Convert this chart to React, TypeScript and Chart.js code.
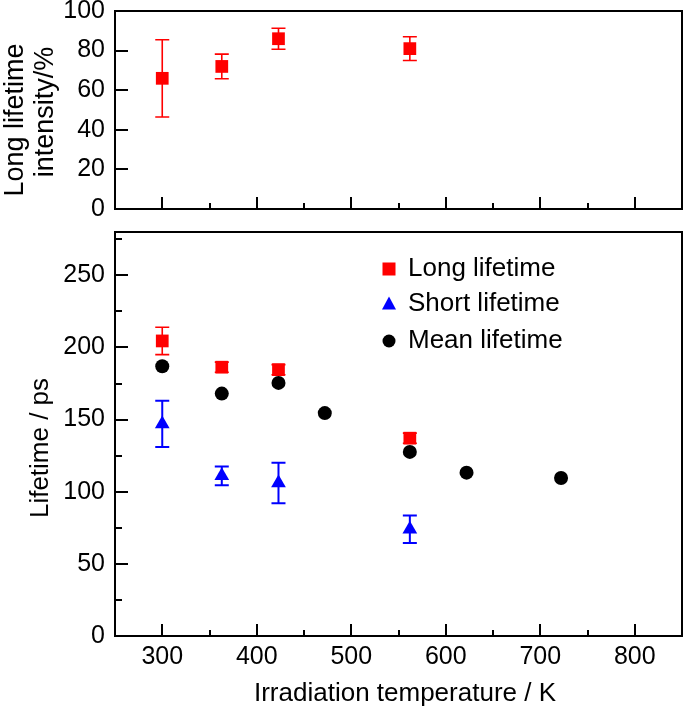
import React, { useEffect, useRef } from "react";
import { Chart, registerables } from "chart.js";
Chart.register(...registerables);

// ---- data ----
const intensityTemps = [300, 363, 423, 562];
const intensityValues = [66, 72, 86, 81];
const intensityErrors = [19.5, 6.2, 5.3, 6];

const longTemps = [300, 363, 423, 562];
const longValues = [204.5, 186.3, 184.6, 137.1];
const longErrors = [9.5, 3.5, 3.5, 3.5];

const shortTemps = [300, 363, 423, 562];
const shortValues = [147, 111, 106, 74];
const shortErrors = [16, 6.5, 14, 9.5];

const meanTemps = [300, 363, 423, 472, 562, 622, 722];
const meanValues = [187, 168, 175.4, 154.5, 127.6, 113.2, 109.5];

const xMajorTicks = [300, 400, 500, 600, 700, 800];
const xMinorTicks = [350, 450, 550, 650, 750];
const topYTicks = [0, 20, 40, 60, 80, 100];
const bottomYTicks = [0, 50, 100, 150, 200, 250];
const bottomYMinorTicks = [25, 75, 125, 175, 225, 275];

const seriesNames = ["Long lifetime", "Short lifetime", "Mean lifetime"];
const xTitle = "Irradiation temperature / K";
const topYTitle = ["Long lifetime", "intensity/%"];
const bottomYTitle = "Lifetime / ps";

const RED = "#ff0000";
const BLUE = "#0000ff";
const BLACK = "#000000";
const FONT = "'Liberation Sans', Arial, Helvetica, sans-serif";

function pts(xs: number[], ys: number[]) {
  return xs.map((x, i) => ({ x, y: ys[i] }));
}

const errorBarPlugin = {
  id: "errorBars",
  beforeDatasetsDraw(chart: any) {
    const { ctx } = chart;
    const xs = chart.scales.x;
    const ys = chart.scales.y;
    chart.data.datasets.forEach((ds: any) => {
      if (!ds.errors) return;
      ctx.save();
      ctx.strokeStyle = ds.errorColor;
      ctx.lineWidth = ds.errorWidth || 2;
      ctx.beginPath();
      ds.data.forEach((p: any, i: number) => {
        const e = ds.errors[i];
        const px = xs.getPixelForValue(p.x);
        const y1 = ys.getPixelForValue(p.y + e);
        const y2 = ys.getPixelForValue(p.y - e);
        ctx.moveTo(px, y1);
        ctx.lineTo(px, y2);
        ctx.moveTo(px - 7, y1);
        ctx.lineTo(px + 7, y1);
        ctx.moveTo(px - 7, y2);
        ctx.lineTo(px + 7, y2);
      });
      ctx.stroke();
      ctx.restore();
    });
  },
};

function makeFramePlugin(cfg: {
  yMajor: number[];
  yMinor: number[];
  titles: (chart: any) => void;
  legend?: boolean;
}) {
  return {
    id: "frame",
    afterDraw(chart: any) {
      const { ctx } = chart;
      const { left, right, top, bottom } = chart.chartArea;
      const xs = chart.scales.x;
      const ys = chart.scales.y;
      ctx.save();
      ctx.strokeStyle = BLACK;
      ctx.lineWidth = 2;
      ctx.strokeRect(left, top, right - left, bottom - top);
      ctx.beginPath();
      xMajorTicks.forEach((v) => {
        const p = Math.round(xs.getPixelForValue(v));
        ctx.moveTo(p, bottom);
        ctx.lineTo(p, bottom - 12);
      });
      xMinorTicks.forEach((v) => {
        const p = Math.round(xs.getPixelForValue(v));
        ctx.moveTo(p, bottom);
        ctx.lineTo(p, bottom - 6);
      });
      cfg.yMajor.forEach((v) => {
        const p = Math.round(ys.getPixelForValue(v));
        ctx.moveTo(left, p);
        ctx.lineTo(left + 13, p);
      });
      cfg.yMinor.forEach((v) => {
        const p = Math.round(ys.getPixelForValue(v));
        ctx.moveTo(left, p);
        ctx.lineTo(left + 7, p);
      });
      ctx.stroke();
      cfg.titles(chart);
      if (cfg.legend) {
        const mx = 389;
        const tx = 408;
        const rows = [top + 37, top + 72, top + 109];
        ctx.fillStyle = RED;
        ctx.fillRect(mx - 6.5, rows[0] - 6.5, 13, 13);
        ctx.fillStyle = BLUE;
        ctx.beginPath();
        ctx.moveTo(mx, rows[1] - 7.5);
        ctx.lineTo(mx + 7, rows[1] + 5.5);
        ctx.lineTo(mx - 7, rows[1] + 5.5);
        ctx.closePath();
        ctx.fill();
        ctx.fillStyle = BLACK;
        ctx.beginPath();
        ctx.arc(mx, rows[2], 6.5, 0, Math.PI * 2);
        ctx.fill();
        ctx.fillStyle = BLACK;
        ctx.font = `26px ${FONT}`;
        ctx.textAlign = "left";
        ctx.textBaseline = "middle";
        seriesNames.forEach((n, i) => ctx.fillText(n, tx, rows[i]));
      }
      ctx.restore();
    },
  };
}

function rotatedText(ctx: any, text: string, x: number, y: number) {
  ctx.save();
  ctx.translate(x, y);
  ctx.rotate(-Math.PI / 2);
  ctx.textAlign = "center";
  ctx.textBaseline = "middle";
  ctx.fillText(text, 0, 0);
  ctx.restore();
}

const tickFont = { family: FONT, size: 25 };

function fixedTicks(values: number[]) {
  return (s: any) => {
    s.ticks = values.map((v) => ({ value: v }));
  };
}

export default function App() {
  const topRef = useRef<HTMLCanvasElement>(null);
  const botRef = useRef<HTMLCanvasElement>(null);

  useEffect(() => {
    const topChart = new Chart(topRef.current as HTMLCanvasElement, {
      type: "scatter",
      data: {
        datasets: [
          {
            label: "Long lifetime intensity",
            data: pts(intensityTemps, intensityValues),
            errors: intensityErrors,
            errorColor: RED,
            errorWidth: 1.6,
            pointStyle: "rect",
            pointRadius: 9,
            backgroundColor: RED,
            borderColor: RED,
            borderWidth: 0,
          } as any,
        ],
      },
      options: {
        animation: false,
        responsive: false,
        events: [],
        layout: { autoPadding: false, padding: { left: 0, top: 11, right: 3, bottom: 0 } },
        plugins: { legend: { display: false }, tooltip: { enabled: false } },
        scales: {
          x: {
            type: "linear",
            min: 250,
            max: 850,
            ticks: { display: false },
            grid: { display: false, drawTicks: false },
            border: { display: false },
            afterBuildTicks: fixedTicks(xMajorTicks),
            afterFit: (s: any) => {
              s.height = 13;
              s.paddingLeft = 0;
              s.paddingRight = 0;
            },
          },
          y: {
            min: 0,
            max: 100,
            ticks: { font: tickFont, color: BLACK, padding: 10 },
            grid: { display: false, drawTicks: false },
            border: { display: false },
            afterBuildTicks: fixedTicks(topYTicks),
            afterFit: (s: any) => {
              s.width = 115;
              s.paddingTop = 0;
              s.paddingBottom = 0;
            },
          },
        },
      } as any,
      plugins: [
        errorBarPlugin,
        makeFramePlugin({
          yMajor: topYTicks,
          yMinor: [],
          titles: (chart: any) => {
            const ctx = chart.ctx;
            ctx.fillStyle = BLACK;
            ctx.font = `27px ${FONT}`;
            rotatedText(ctx, topYTitle[0], 16, 120);
            rotatedText(ctx, topYTitle[1], 46, 112);
          },
        }),
      ],
    });

    const botChart = new Chart(botRef.current as HTMLCanvasElement, {
      type: "scatter",
      data: {
        datasets: [
          {
            label: seriesNames[0],
            data: pts(longTemps, longValues),
            errors: longErrors,
            errorColor: RED,
            errorWidth: 1.6,
            pointStyle: "rect",
            pointRadius: 9,
            backgroundColor: RED,
            borderColor: RED,
            borderWidth: 0,
          } as any,
          {
            label: seriesNames[1],
            data: pts(shortTemps, shortValues),
            errors: shortErrors,
            errorColor: BLUE,
            errorWidth: 2,
            pointStyle: "triangle",
            pointRadius: 8.5,
            backgroundColor: BLUE,
            borderColor: BLUE,
            borderWidth: 0,
          } as any,
          {
            label: seriesNames[2],
            data: pts(meanTemps, meanValues),
            pointStyle: "circle",
            pointRadius: 7,
            backgroundColor: BLACK,
            borderColor: BLACK,
            borderWidth: 0,
          },
        ],
      },
      options: {
        animation: false,
        responsive: false,
        events: [],
        layout: { autoPadding: false, padding: { left: 0, top: 10, right: 3, bottom: 0 } },
        plugins: { legend: { display: false }, tooltip: { enabled: false } },
        scales: {
          x: {
            type: "linear",
            min: 250,
            max: 850,
            ticks: { font: tickFont, color: BLACK, padding: 6 },
            grid: { display: false, drawTicks: false },
            border: { display: false },
            afterBuildTicks: fixedTicks(xMajorTicks),
            afterFit: (s: any) => {
              s.height = 75;
              s.paddingLeft = 0;
              s.paddingRight = 0;
            },
          },
          y: {
            min: 0,
            max: 280,
            ticks: { font: tickFont, color: BLACK, padding: 10 },
            grid: { display: false, drawTicks: false },
            border: { display: false },
            afterBuildTicks: fixedTicks(bottomYTicks),
            afterFit: (s: any) => {
              s.width = 115;
              s.paddingTop = 0;
              s.paddingBottom = 0;
            },
          },
        },
      } as any,
      plugins: [
        errorBarPlugin,
        makeFramePlugin({
          yMajor: bottomYTicks,
          yMinor: bottomYMinorTicks,
          legend: true,
          titles: (chart: any) => {
            const ctx = chart.ctx;
            ctx.fillStyle = BLACK;
            ctx.font = `26px ${FONT}`;
            rotatedText(ctx, bottomYTitle, 41, 226);
            ctx.textAlign = "center";
            ctx.textBaseline = "middle";
            ctx.fillText(xTitle, 405, 472);
          },
        }),
      ],
    });

    return () => {
      topChart.destroy();
      botChart.destroy();
    };
  }, []);

  return (
    <div
      style={{
        position: "fixed",
        left: 0,
        top: 0,
        width: 685,
        height: 711,
        background: "#fff",
        overflow: "hidden",
      }}
    >
      <canvas
        ref={topRef}
        width={685}
        height={222}
        style={{ position: "absolute", left: 0, top: 0, display: "block" }}
      />
      <canvas
        ref={botRef}
        width={685}
        height={489}
        style={{ position: "absolute", left: 0, top: 222, display: "block" }}
      />
    </div>
  );
}
